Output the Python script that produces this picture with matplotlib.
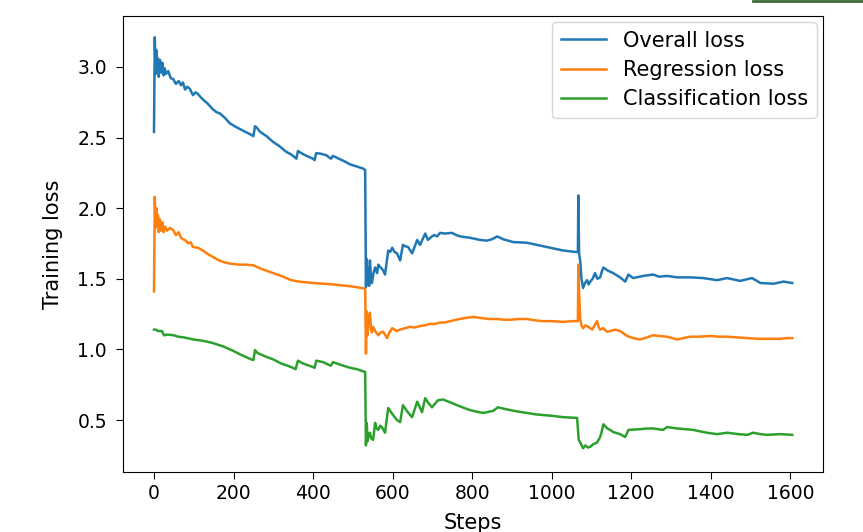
import numpy as np
import matplotlib
matplotlib.use('Agg')
import matplotlib.pyplot as plt
from matplotlib.lines import Line2D

# values (step, loss)
overall_steps = [0, 2, 4, 6, 8, 10, 12, 15, 18, 21, 24, 27, 30, 36, 42, 48, 55, 62, 68, 73,
                 78, 84, 90, 98, 104, 110, 116, 123, 135, 148, 157, 166, 178, 191, 203, 216,
                 230, 244, 250, 254, 257, 267, 283, 299, 315, 332, 345, 354, 358, 362, 370,
                 380, 392, 400, 404, 408, 420, 433, 440, 445, 450, 465, 480, 493, 510, 526,
                 531, 533, 535, 537, 539, 541, 543, 546, 548, 552, 556, 561, 564, 570, 576,
                 581, 589, 594, 599, 605, 611, 619, 626, 632, 639, 649, 662, 669, 682, 689,
                 699, 705, 712, 719, 732, 749, 760, 770, 795, 820, 837, 850, 863, 878, 903,
                 938, 963, 996, 1029, 1059, 1066, 1067, 1069, 1072, 1075, 1079, 1084, 1089,
                 1093, 1097, 1103, 1109, 1115, 1122, 1126, 1130, 1140, 1147, 1155, 1172,
                 1185, 1193, 1205, 1230, 1255, 1270, 1290, 1316, 1348, 1381, 1416, 1441,
                 1474, 1504, 1525, 1558, 1583, 1605]
overall_loss = [2.54, 3.21, 2.95, 3.12, 2.98, 3.06, 2.93, 3.05, 2.96, 3.03, 2.94, 2.99, 2.95,
                2.97, 2.92, 2.915, 2.88, 2.90, 2.87, 2.89, 2.84, 2.86, 2.845, 2.80, 2.82, 2.81,
                2.79, 2.77, 2.74, 2.70, 2.68, 2.67, 2.64, 2.60, 2.58, 2.56, 2.54, 2.52, 2.51,
                2.58, 2.575, 2.54, 2.51, 2.47, 2.44, 2.40, 2.38, 2.36, 2.35, 2.405, 2.39,
                2.375, 2.36, 2.35, 2.34, 2.39, 2.385, 2.375, 2.36, 2.35, 2.37, 2.35, 2.33,
                2.31, 2.295, 2.28, 2.27, 1.44, 1.64, 1.46, 1.58, 1.45, 1.63, 1.50, 1.47, 1.54,
                1.58, 1.54, 1.60, 1.58, 1.56, 1.53, 1.70, 1.69, 1.72, 1.69, 1.68, 1.63, 1.74,
                1.73, 1.725, 1.68, 1.775, 1.74, 1.82, 1.775, 1.80, 1.81, 1.80, 1.825, 1.82,
                1.825, 1.81, 1.80, 1.79, 1.775, 1.77, 1.78, 1.80, 1.78, 1.76, 1.755, 1.74,
                1.72, 1.70, 1.69, 1.69, 2.09, 1.68, 1.62, 1.50, 1.435, 1.47, 1.49, 1.46, 1.48,
                1.50, 1.54, 1.50, 1.51, 1.55, 1.58, 1.56, 1.55, 1.54, 1.51, 1.48, 1.53, 1.505,
                1.52, 1.53, 1.515, 1.52, 1.51, 1.51, 1.505, 1.49, 1.505, 1.485, 1.505, 1.47,
                1.465, 1.48, 1.47]

regression_steps = [0, 2, 4, 6, 8, 10, 12, 15, 18, 21, 24, 28, 33, 40, 48, 55, 62, 68, 73, 80,
                    86, 92, 98, 110, 123, 135, 148, 160, 173, 186, 199, 215, 231, 250, 270,
                    300, 320, 345, 365, 400, 450, 500, 531, 533, 535, 537, 540, 543, 546, 548,
                    551, 556, 564, 570, 576, 582, 586, 592, 599, 610, 619, 632, 644, 655, 669,
                    680, 694, 705, 719, 730, 745, 760, 777, 790, 803, 815, 828, 845, 863, 880,
                    896, 915, 938, 960, 979, 1000, 1029, 1050, 1062, 1066, 1067, 1069, 1072,
                    1075, 1079, 1085, 1092, 1097, 1102, 1108, 1114, 1118, 1122, 1130, 1139,
                    1147, 1160, 1172, 1190, 1205, 1222, 1240, 1255, 1270, 1290, 1316, 1330,
                    1348, 1370, 1399, 1420, 1441, 1465, 1492, 1520, 1542, 1575, 1590, 1605]
regression_loss = [1.41, 2.08, 1.86, 2.00, 1.88, 1.95, 1.83, 1.92, 1.84, 1.90, 1.83, 1.87, 1.84,
                   1.86, 1.845, 1.81, 1.83, 1.79, 1.78, 1.77, 1.75, 1.76, 1.725, 1.72, 1.70,
                   1.675, 1.655, 1.635, 1.62, 1.61, 1.605, 1.60, 1.60, 1.595, 1.57, 1.54, 1.52,
                   1.49, 1.48, 1.47, 1.46, 1.445, 1.43, 0.97, 1.27, 1.10, 1.22, 1.26, 1.14,
                   1.12, 1.16, 1.13, 1.10, 1.12, 1.125, 1.10, 1.08, 1.12, 1.15, 1.13, 1.14,
                   1.15, 1.16, 1.155, 1.165, 1.17, 1.18, 1.18, 1.19, 1.19, 1.20, 1.21, 1.22,
                   1.225, 1.23, 1.225, 1.22, 1.215, 1.215, 1.21, 1.21, 1.215, 1.215, 1.205,
                   1.20, 1.20, 1.195, 1.20, 1.20, 1.20, 1.60, 1.40, 1.21, 1.17, 1.15, 1.17,
                   1.16, 1.15, 1.14, 1.17, 1.20, 1.16, 1.14, 1.15, 1.125, 1.13, 1.14, 1.13,
                   1.095, 1.08, 1.07, 1.085, 1.10, 1.095, 1.09, 1.07, 1.08, 1.09, 1.09, 1.095,
                   1.09, 1.09, 1.085, 1.08, 1.075, 1.075, 1.075, 1.08, 1.08]

classification_steps = [0, 5, 10, 20, 25, 35, 50, 60, 75, 100, 125, 148, 175, 199, 220, 244,
                        250, 254, 260, 280, 299, 320, 345, 356, 362, 375, 395, 404, 408, 425,
                        440, 445, 450, 470, 493, 510, 531, 533, 535, 537, 540, 543, 546, 551,
                        556, 560, 564, 569, 574, 581, 589, 600, 611, 619, 626, 637, 649, 662,
                        674, 682, 690, 699, 714, 727, 745, 762, 780, 795, 810, 828, 853, 865,
                        880, 896, 915, 938, 960, 979, 1000, 1029, 1064, 1068, 1072, 1079, 1085,
                        1091, 1097, 1105, 1114, 1122, 1126, 1130, 1140, 1147, 1155, 1172, 1185,
                        1193, 1222, 1240, 1255, 1280, 1290, 1316, 1356, 1390, 1416, 1441, 1470,
                        1492, 1507, 1525, 1542, 1575, 1605]
classification_loss = [1.14, 1.14, 1.13, 1.13, 1.10, 1.105, 1.10, 1.09, 1.085, 1.07, 1.06,
                       1.045, 1.02, 0.99, 0.96, 0.93, 0.925, 0.995, 0.975, 0.95, 0.93, 0.90,
                       0.875, 0.86, 0.92, 0.90, 0.88, 0.87, 0.92, 0.91, 0.89, 0.885, 0.91,
                       0.89, 0.87, 0.86, 0.84, 0.32, 0.48, 0.35, 0.40, 0.41, 0.37, 0.36, 0.48,
                       0.44, 0.43, 0.46, 0.445, 0.41, 0.585, 0.54, 0.50, 0.485, 0.605, 0.56,
                       0.52, 0.63, 0.555, 0.655, 0.62, 0.59, 0.64, 0.645, 0.625, 0.605, 0.585,
                       0.57, 0.56, 0.55, 0.565, 0.59, 0.58, 0.57, 0.56, 0.55, 0.54, 0.535, 0.53,
                       0.52, 0.515, 0.36, 0.34, 0.30, 0.32, 0.305, 0.31, 0.33, 0.34, 0.38, 0.42,
                       0.47, 0.44, 0.43, 0.415, 0.40, 0.38, 0.43, 0.435, 0.44, 0.44, 0.43, 0.45,
                       0.44, 0.43, 0.41, 0.40, 0.41, 0.40, 0.395, 0.41, 0.40, 0.395, 0.40, 0.395]

fig = plt.figure(figsize=(8.63, 5.32), dpi=100)
ax = fig.add_axes([0.1425, 0.1128, 0.811, 0.857])

ax.plot(overall_steps, overall_loss, color='tab:blue', lw=1.8, label='Overall loss')
ax.plot(regression_steps, regression_loss, color='tab:orange', lw=1.8, label='Regression loss')
ax.plot(classification_steps, classification_loss, color='tab:green', lw=1.8,
        label='Classification loss')

ax.set_xlim(-78, 1682)
ax.set_ylim(0.132, 3.36)
ax.set_xticks(np.arange(0, 1601, 200))
ax.set_yticks([0.5, 1.0, 1.5, 2.0, 2.5, 3.0])
ax.tick_params(labelsize=13.5, length=5)
ax.tick_params(axis='y', pad=6.5)
ax.set_xlabel('Steps', fontsize=15)
ax.set_ylabel('Training loss', fontsize=15)
ax.yaxis.set_label_coords(-0.085, 0.5)
ax.xaxis.set_label_coords(0.5, -0.09)
ax.legend(loc='upper right', fontsize=15, handlelength=2.2, borderaxespad=0.3,
          labelspacing=0.45)

# screenshot edge artefact at the top right
fig.add_artist(Line2D([753 / 863, 1.0], [0.998, 0.998], transform=fig.transFigure,
                      color='#3c6b38', lw=2))

fig.savefig('out.png', dpi=100)
